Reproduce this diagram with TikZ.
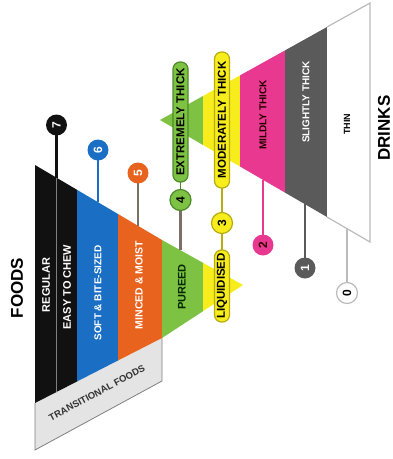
\documentclass[tikz,border=0pt]{standalone}
\usepackage{fontspec}
\setmainfont{Liberation Sans}
\usepackage{graphicx}
\definecolor{cblack}{HTML}{111111}
\definecolor{cblue}{HTML}{1A6FC4}
\definecolor{corange}{HTML}{E8641E}
\definecolor{cgreen}{HTML}{7DC242}
\definecolor{cdgreen}{HTML}{4E8A2A}
\definecolor{cyellow}{HTML}{F7EC1C}
\definecolor{cdyellow}{HTML}{B8AC10}
\definecolor{cpink}{HTML}{E8388F}
\definecolor{cgray}{HTML}{5A5A5A}
\definecolor{clgray}{HTML}{BBBBBB}
\definecolor{ctrans}{HTML}{E4E4E4}
\definecolor{cstem}{HTML}{7A7065}
\begin{document}
\begin{tikzpicture}[x=1pt,y=-1pt,
  lab/.style={rotate=90, inner sep=0pt, font=\bfseries\fontsize{11}{11}\selectfont},
  slab/.style={rotate=28, inner sep=0pt, font=\bfseries\fontsize{9.5}{9.5}\selectfont},
  pill/.style={rotate=90, rounded corners=7pt, line width=1.2pt, minimum height=15pt, inner sep=0pt, font=\bfseries\fontsize{11.5}{11.5}\selectfont},
  num/.style={circle, minimum size=21pt, inner sep=0pt, rotate=90, line width=1.2pt, font=\bfseries\fontsize{12}{12}\selectfont},
  stem/.style={line width=2.5pt},
  title/.style={rotate=90, inner sep=0pt, font=\bfseries\fontsize{17}{17}\selectfont}]
\useasboundingbox (0,0) rectangle (393,459);
% ---------- DRINKS ----------
\fill[cgreen] (160,120) -- (203,96) -- (203,145) -- cycle;
\fill[cyellow] (203,96) -- (240,75.4) -- (240,166.5) -- (203,145) -- cycle;
\fill[cpink] (240,75.4) -- (285,50.4) -- (285,192.6) -- (240,166.5) -- cycle;
\fill[cgray] (285,50.4) -- (327,27) -- (327,217) -- (285,192.6) -- cycle;
\fill[white] (327,27) -- (370,3) -- (370,242) -- (327,217) -- cycle;
\draw[clgray, line width=1.2pt] (327,27) -- (370,3) -- (370,242) -- (327,217);
% ---------- FOODS ----------
\fill[ctrans] (35,403) -- (162,338) -- (162,381) -- (35,450) -- cycle;
\draw[gray, line width=0.8pt] (35,403) -- (35,450) -- (162,381) -- (162,338);
\fill[cblack] (35,165) -- (77,189.8) -- (77,381.5) -- (35,403) -- cycle;
\fill[cblue] (77,189.8) -- (118,214) -- (118,360.5) -- (77,381.5) -- cycle;
\fill[corange] (118,214) -- (162,240) -- (162,338) -- (118,360.5) -- cycle;
\fill[cgreen] (162,240) -- (203,262.8) -- (203,311.2) -- (162,338) -- cycle;
\fill[cyellow] (203,262.8) -- (243,285) -- (203,311.2) -- cycle;
\draw[gray, line width=0.8pt] (56.5,177.5) -- (56.5,392);
% ---------- stems ----------
\coordinate (s7) at (56.5,178);
\coordinate (s6) at (98,202);
\coordinate (s5) at (138,226);
\coordinate (s4) at (180.5,250);
\coordinate (s2) at (263,180);
\coordinate (s1) at (305,204);
\coordinate (s0) at (347,228.6);
\coordinate (k7) at (56.5,125);
\coordinate (k6) at (98,150);
\coordinate (k5) at (138,173);
\coordinate (k4) at (180.5,200);
\coordinate (k3) at (222,223);
\coordinate (k2) at (263,245);
\coordinate (k1) at (305,268);
\coordinate (k0) at (347,293);
\draw[stem, cblack] (s7) -- (k7);
\draw[stem, cblue] (s6) -- (k6);
\draw[stem, cstem] (s5) -- (k5);
\draw[stem, cstem] (s4) -- (k4);
\draw[stem, cdgreen, line width=1.5pt] (180.5,150) -- (k4);
\draw[stem, cdyellow, line width=1.5pt] (222,150) -- (222,270);
\draw[stem, cpink] (s2) -- (k2);
\draw[stem, cgray] (s1) -- (k1);
\draw[stem, clgray] (s0) -- (k0);
% ---------- labels in bands ----------
\node[lab, white] (lreg) at (46,285) {REGULAR};
\node[lab, white] (leasy) at (67,287) {EASY TO CHEW};
\node[lab, white, font=\bfseries\fontsize{10}{10}\selectfont] (lsoft) at (98,293) {SOFT \& BITE-SIZED};
\node[lab, white, font=\bfseries\fontsize{10.5}{10.5}\selectfont] (lmin) at (139,285) {MINCED \& MOIST};
\node[lab, black!85!green] (lpur) at (182,287) {PUREED};
\node[slab, black!80] (ltrans) at (97,393) {TRANSITIONAL FOODS};
\node[lab, black, font=\bfseries\fontsize{9}{9}\selectfont] (lthin) at (347,124) {THIN};
\node[lab, white, font=\bfseries\fontsize{10}{10}\selectfont] (lsli) at (306,102) {SLIGHTLY THICK};
\node[lab, black!85!red, font=\bfseries\fontsize{10}{10}\selectfont] (lmil) at (263,115) {MILDLY THICK};
\node[title] (foods) at (17,288) {FOODS};
\node[title] (drinks) at (384,128) {DRINKS};
% ---------- pills and circles ----------
\node[pill, fill=cgreen, draw=cdgreen, minimum width=120pt] (p4) at (180.5,122) {EXTREMELY THICK};
\node[pill, fill=cyellow, draw=cdyellow, minimum width=136pt] (p3) at (222,120) {MODERATELY THICK};
\node[pill, fill=cyellow, draw=cdyellow, minimum width=72pt] (pl) at (222,286) {LIQUIDISED};
\node[num, fill=cblack, text=white] (c7) at (k7) {7};
\node[num, fill=cblue, text=white] (c6) at (k6) {6};
\node[num, fill=corange, text=white] (c5) at (k5) {5};
\node[num, fill=cgreen, draw=cdgreen] (c4) at (k4) {4};
\node[num, fill=cyellow, draw=cdyellow] (c3) at (k3) {3};
\node[num, fill=cpink, text=black!80!red] (c2) at (k2) {2};
\node[num, fill=cgray, text=white] (c1) at (k1) {1};
\node[num, fill=white, draw=clgray] (c0) at (k0) {0};
\end{tikzpicture}
\end{document}
